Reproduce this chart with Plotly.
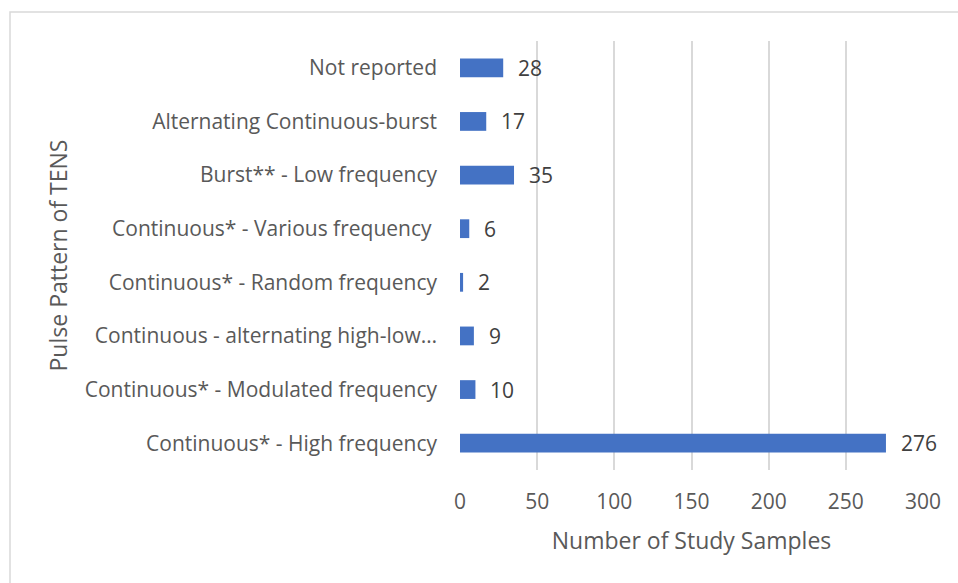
import plotly.graph_objects as go

categories = [
    "Not reported",
    "Alternating Continuous-burst",
    "Burst** - Low frequency",
    "Continuous* - Various frequency ",
    "Continuous* - Random frequency",
    "Continuous - alternating high-low…",
    "Continuous* - Modulated frequency",
    "Continuous* - High frequency",
]
values = [28, 17, 35, 6, 2, 9, 10, 276]
x_ticks = [0, 50, 100, 150, 200, 250, 300]

FONT = "Open Sans"

fig = go.Figure()
fig.add_trace(go.Bar(
    y=categories, x=values, orientation="h",
    marker=dict(color="#4472C4", line=dict(width=0)),
    width=0.35,
    hoverinfo="x+y",
))

for c, v in zip(categories, values):
    fig.add_annotation(x=v, y=c, text=str(v), showarrow=False,
                       xanchor="left", xshift=13,
                       font=dict(family=FONT, size=21, color="#404040"))

fig.add_shape(type="rect", xref="paper", yref="paper",
              x0=(10 - 460) / 463, x1=1.2, y0=-0.4, y1=(470 - 12) / 429,
              line=dict(color="#d9d9d9", width=1.5), fillcolor="rgba(0,0,0,0)",
              layer="below")

fig.update_layout(
    width=958, height=583,
    margin=dict(l=460, r=35, t=41, b=113),
    paper_bgcolor="white", plot_bgcolor="white",
    showlegend=False,
    font=dict(family=FONT, color="#595959"),
    xaxis=dict(range=[0, 300], tickvals=x_ticks, showgrid=True,
               gridcolor="#d9d9d9", gridwidth=1.5, zeroline=False,
               showline=False, ticks="", ticklabelstandoff=17,
               tickfont=dict(size=21, color="#595959"),
               title=dict(text="Number of Study Samples", standoff=18,
                          font=dict(size=23, color="#595959"))),
    yaxis=dict(autorange="reversed", showgrid=False, zeroline=False,
               showline=False, ticks="", ticklabelstandoff=22,
               tickfont=dict(size=21, color="#595959"),
               title=dict(text="Pulse Pattern of TENS", standoff=10,
                          font=dict(size=23, color="#595959"))),
)

fig.write_html("out.html", config={"displayModeBar": False},
               post_script="document.body.style.margin='0';")
